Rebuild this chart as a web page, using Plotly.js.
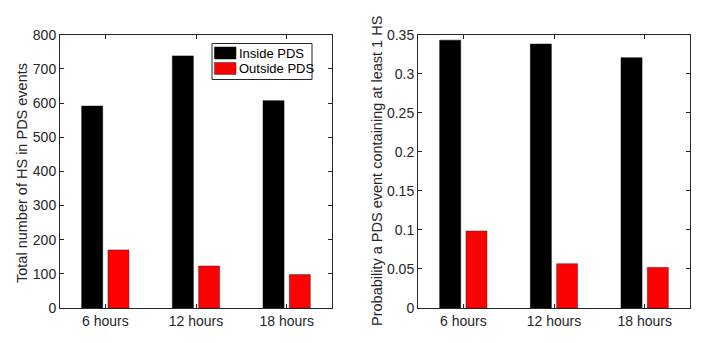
<!DOCTYPE html>
<html>
<head>
<meta charset="utf-8">
<script src="https://cdn.plot.ly/plotly-3.0.1.min.js"></script>
<style>html,body{margin:0;padding:0;background:#fff;}#chart{width:705px;height:343px;}</style>
</head>
<body>
<div id="chart"></div>
<script>
const categories = ['6 hours', '12 hours', '18 hours'];
const insideCounts = [591, 738, 607];
const outsideCounts = [170, 123, 98];
const insideProb = [0.343, 0.338, 0.3205];
const outsideProb = [0.0986, 0.0567, 0.0521];
const seriesNames = ['Inside PDS', 'Outside PDS'];
const seriesColors = ['#000000', '#ff0000'];
const leftTicks = [0, 100, 200, 300, 400, 500, 600, 700, 800];
const rightTicks = [0, 0.05, 0.1, 0.15, 0.2, 0.25, 0.3, 0.35];
const rightTickText = ['0', '0.05', '0.1', '0.15', '0.2', '0.25', '0.3', '0.35'];
const leftTitle = 'Total number of HS in PDS events';
const rightTitle = 'Probability a PDS event containing at least 1 HS';

const axisColor = '#262626';
const fontFam = 'Liberation Sans, Arial, Helvetica, sans-serif';
const W = 705, H = 343;
const px = v => v / W;
const py = v => 1 - v / H;

const edge = ['#000000', '#333333'];
const traces = [
  {type: 'bar', x: categories, y: insideCounts, name: seriesNames[0], xaxis: 'x', yaxis: 'y', showlegend: false,
   marker: {color: seriesColors[0], line: {color: edge[0], width: 0.5}}},
  {type: 'bar', x: categories, y: outsideCounts, name: seriesNames[1], xaxis: 'x', yaxis: 'y', showlegend: false,
   marker: {color: seriesColors[1], line: {color: edge[1], width: 0.5}}},
  {type: 'bar', x: categories, y: insideProb, name: seriesNames[0], xaxis: 'x2', yaxis: 'y2', showlegend: false,
   marker: {color: seriesColors[0], line: {color: edge[0], width: 0.5}}},
  {type: 'bar', x: categories, y: outsideProb, name: seriesNames[1], xaxis: 'x2', yaxis: 'y2', showlegend: false,
   marker: {color: seriesColors[1], line: {color: edge[1], width: 0.5}}}
];

const xCommon = {
  range: [-0.5, 2.5], showline: true, linecolor: axisColor, linewidth: 1, mirror: 'ticks',
  ticks: 'inside', ticklen: 4, tickcolor: axisColor, showgrid: false, zeroline: false,
  tickfont: {family: fontFam, size: 14, color: axisColor}, fixedrange: true
};
const yCommon = {
  showline: true, linecolor: axisColor, linewidth: 1, mirror: 'ticks',
  ticks: 'inside', ticklen: 4, tickcolor: axisColor, showgrid: false, zeroline: false,
  tickfont: {family: fontFam, size: 14, color: axisColor}, fixedrange: true
};

// Legend drawn as shapes + text (MATLAB-style wide swatches)
const legBox = {x0: 212, x1: 312, y0: 43.5, y1: 79.5};
const swatches = [{y0: 47, y1: 59}, {y0: 62.5, y1: 74.5}];
const shapes = [
  {type: 'rect', xref: 'paper', yref: 'paper', x0: px(legBox.x0), x1: px(legBox.x1), y0: py(legBox.y1), y1: py(legBox.y0),
   line: {color: axisColor, width: 1}, fillcolor: '#ffffff', layer: 'above'}
];
const annotations = [];
seriesNames.forEach((n, i) => {
  shapes.push({type: 'rect', xref: 'paper', yref: 'paper', x0: px(214.5), x1: px(236), y0: py(swatches[i].y1), y1: py(swatches[i].y0),
    line: {color: edge[i], width: 0.5}, fillcolor: seriesColors[i], layer: 'above'});
  annotations.push({xref: 'paper', yref: 'paper', x: px(237), y: py((swatches[i].y0 + swatches[i].y1) / 2),
    xanchor: 'left', yanchor: 'middle', text: n, showarrow: false,
    font: {family: fontFam, size: 13, color: '#000000'}});
});
annotations.push({xref: 'paper', yref: 'paper', x: px(22), y: py(173), xanchor: 'center', yanchor: 'middle',
  textangle: -90, text: leftTitle, showarrow: false, font: {family: fontFam, size: 14.5, color: axisColor}});
annotations.push({xref: 'paper', yref: 'paper', x: px(377), y: py(171), xanchor: 'center', yanchor: 'middle',
  textangle: -90, text: rightTitle, showarrow: false, font: {family: fontFam, size: 14.5, color: axisColor}});

const layout = {
  width: W, height: H,
  margin: {l: 0, r: 0, t: 0, b: 0},
  paper_bgcolor: '#ffffff', plot_bgcolor: '#ffffff',
  barmode: 'group', bargap: 0.42, bargroupgap: 0.2,
  font: {family: fontFam, color: axisColor},
  showlegend: false,
  shapes: shapes,
  annotations: annotations,
  xaxis: Object.assign({}, xCommon, {domain: [px(60), px(332)], anchor: 'y'}),
  yaxis: Object.assign({}, yCommon, {domain: [py(308), py(34.7)], anchor: 'x', range: [0, 800], tickvals: leftTicks}),
  xaxis2: Object.assign({}, xCommon, {domain: [px(418), px(690)], anchor: 'y2'}),
  yaxis2: Object.assign({}, yCommon, {domain: [py(308), py(34.7)], anchor: 'x2', range: [0, 0.35],
    tickvals: rightTicks, ticktext: rightTickText})
};

Plotly.newPlot('chart', traces, layout, {staticPlot: true, displayModeBar: false});
</script>
</body>
</html>
